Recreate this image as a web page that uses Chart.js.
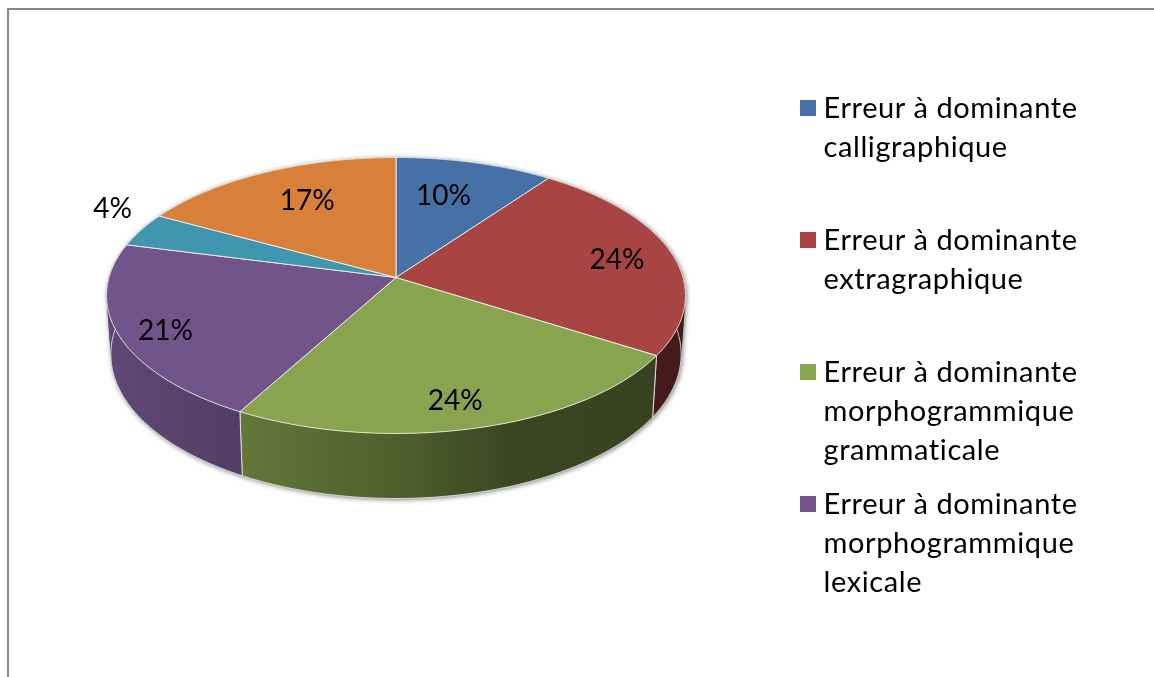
<!DOCTYPE html>
<html lang="fr">
<head>
<meta charset="utf-8">
<script src="https://cdn.jsdelivr.net/npm/chart.js@4"></script>
<style>
html,body{margin:0;padding:0;background:#fff;overflow:hidden}
#stage{position:relative;width:1154px;height:677px;overflow:hidden;font-family:Lato,Carlito,sans-serif;color:#000}
#frame{position:absolute;left:7px;top:8px;width:1300px;height:800px;border:2px solid #878787;box-sizing:border-box}
canvas{position:absolute;left:0;top:0}
.swatch{position:absolute;width:16px;height:16px}
.line{position:absolute;left:823.5px;font-size:29px;line-height:39px;letter-spacing:0.6px;font-variant-ligatures:none;white-space:nowrap}
</style>
</head>
<body>
<div id="stage">
  <div id="frame"></div>
  <canvas id="c" width="1154" height="677"></canvas>
</div>
<script>
const categories = [
  "Erreur à dominante calligraphique",
  "Erreur à dominante extragraphique",
  "Erreur à dominante morphogrammique grammaticale",
  "Erreur à dominante morphogrammique lexicale",
  "Catégorie 5 (hors légende)",
  "Catégorie 6 (hors légende)"
];
const values = [10, 24, 24, 21, 4, 17];
const colors = ["#4571A6", "#A84442", "#88A44E", "#71558A", "#4096AE", "#D8803A"];
const legendLines = [
  ["Erreur à dominante", "calligraphique"],
  ["Erreur à dominante", "extragraphique"],
  ["Erreur à dominante", "morphogrammique", "grammaticale"],
  ["Erreur à dominante", "morphogrammique", "lexicale"]
];
const legendTops = [87, 219, 351, 483];
const labelRadius = [0.689, 0.795, 0.826, 0.85, 1.19, 0.706];
const labelTurn = [-2.9, 1, 1.5, -2.5, 5.7, 2.3];

const FONT_SIZE = 28;
const K = 0.1304, SQUASH = 0.4726, CENTER_SHIFT = 61;
const DEG = Math.PI / 180;

function project(el, t, r) {
  const px = r * Math.cos(t), py = r * Math.sin(t), w = 1 - K * py;
  return { x: el.x + el.outerRadius * px / w,
           y: el.y - CENTER_SHIFT + el.outerRadius * SQUASH * py / w };
}
function lower(el, p) {
  const cy = el.y - CENTER_SHIFT;
  return { x: el.x + 0.985 * (p.x - el.x), y: p.y + 58 + 7 * (p.y - cy) / 156 };
}
function rim(el, a, b) {
  const n = Math.max(2, Math.ceil(Math.abs(b - a) / (0.5 * DEG))), pts = [];
  for (let i = 0; i <= n; i++) pts.push(project(el, a + (b - a) * i / n, 1));
  return pts;
}
function trace(ctx, pts) {
  ctx.beginPath();
  pts.forEach((p, i) => i ? ctx.lineTo(p.x, p.y) : ctx.moveTo(p.x, p.y));
  ctx.closePath();
}
// one path made of small quads with the same winding, so that the wall's fold at the silhouette never cancels out
function wall(ctx, el, top) {
  ctx.beginPath();
  for (let i = 0; i + 1 < top.length; i++) {
    const a = top[i], b = top[i + 1], c = lower(el, b), d = lower(el, a);
    let q = [a, b, c, d];
    const area = q.reduce((s, p, j) => { const r = q[(j + 1) % 4]; return s + p.x * r.y - r.x * p.y; }, 0);
    if (area < 0) q = q.reverse();
    q.forEach((p, j) => j ? ctx.lineTo(p.x, p.y) : ctx.moveTo(p.x, p.y));
    ctx.closePath();
  }
}
function shade(hex, f) {
  const n = parseInt(hex.slice(1), 16);
  return `rgb(${((n >> 16) & 255) * f | 0},${((n >> 8) & 255) * f | 0},${(n & 255) * f | 0})`;
}
const shadeStops = [[106, 0.85], [243, 0.73], [400, 0.58], [510, 0.43], [690, 0.40]];

const pie3d = {
  id: "pie3d",
  beforeDatasetsDraw(chart) {
    const ctx = chart.ctx, arcs = chart.getDatasetMeta(0).data;
    const el0 = arcs[0];
    // soft shadow of the whole base
    ctx.save();
    ctx.shadowColor = "rgba(0,0,0,0.55)";
    ctx.shadowBlur = 5; ctx.shadowOffsetY = 1; ctx.shadowOffsetX = 1;
    wall(ctx, el0, rim(el0, 0, 2 * Math.PI));
    ctx.fillStyle = "#777";
    ctx.fill();
    ctx.restore();
    // side walls
    arcs.forEach((el, i) => {
      const top = rim(el, el.startAngle, el.endAngle);
      const g = ctx.createLinearGradient(106, 0, 690, 0);
      shadeStops.forEach(([x, f]) => g.addColorStop((x - 106) / 584, shade(colors[i], f)));
      wall(ctx, el, top);
      ctx.fillStyle = g; ctx.fill();
      const bottom = top.map(p => lower(el, p));
      ctx.strokeStyle = "rgba(235,235,235,0.85)"; ctx.lineWidth = 1;
      ctx.beginPath();
      ctx.moveTo(top[0].x, top[0].y);
      bottom.forEach(p => ctx.lineTo(p.x, p.y));
      ctx.lineTo(top[top.length - 1].x, top[top.length - 1].y);
      ctx.stroke();
    });
    // top faces
    arcs.forEach((el, i) => {
      const c = project(el, 0, 0);
      trace(ctx, [c].concat(rim(el, el.startAngle, el.endAngle)));
      ctx.fillStyle = colors[i]; ctx.fill();
      ctx.strokeStyle = "rgba(245,245,245,0.85)"; ctx.lineWidth = 1; ctx.stroke();
    });
    return false;
  },
  afterDraw(chart) {
    const ctx = chart.ctx, arcs = chart.getDatasetMeta(0).data;
    const total = values.reduce((a, b) => a + b, 0);
    ctx.save();
    ctx.font = `${FONT_SIZE}px Lato, Carlito, sans-serif`;
    ctx.fillStyle = "#000"; ctx.textAlign = "center"; ctx.textBaseline = "middle";
    arcs.forEach((el, i) => {
      const mid = (el.startAngle + el.endAngle) / 2 + labelTurn[i] * DEG;
      const p = project(el, mid, labelRadius[i]);
      ctx.fillText(Math.round(values[i] / total * 100) + "%", p.x, p.y + 1);
    });
    ctx.restore();
  }
};

new Chart(document.getElementById("c"), {
  type: "pie",
  data: { labels: categories, datasets: [{ data: values, backgroundColor: colors, borderWidth: 0 }] },
  options: {
    responsive: false, animation: false,
    layout: { padding: { left: 109, right: 471, top: 0, bottom: 0 } },
    plugins: { legend: { display: false }, tooltip: { enabled: false } }
  },
  plugins: [pie3d]
});

const stage = document.getElementById("stage");
legendLines.forEach((lines, i) => {
  const s = document.createElement("div");
  s.className = "swatch";
  s.style.cssText = `left:800px;top:${legendTops[i] + 13}px;background:${colors[i]}`;
  stage.appendChild(s);
  lines.forEach((t, j) => {
    const d = document.createElement("div");
    d.className = "line";
    d.style.top = (legendTops[i] + j * 39) + "px";
    d.textContent = t;
    stage.appendChild(d);
  });
});
</script>
</body>
</html>
